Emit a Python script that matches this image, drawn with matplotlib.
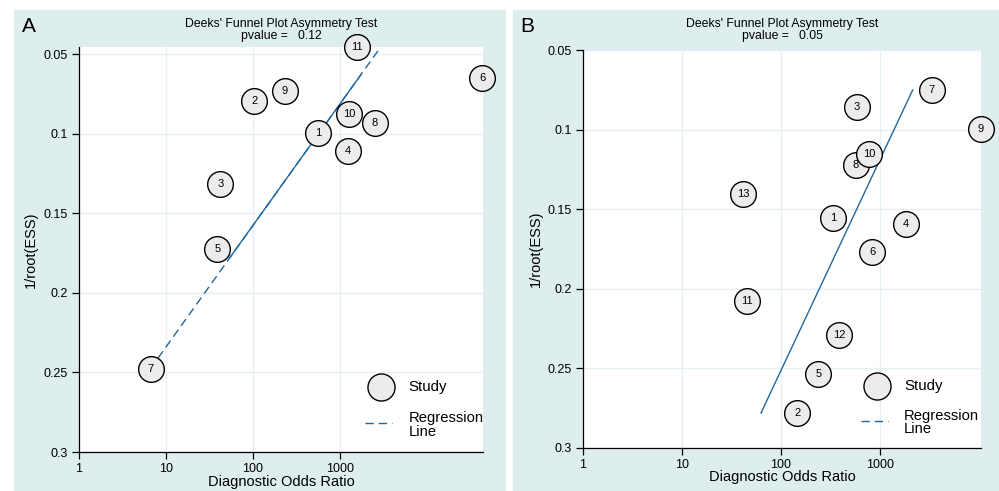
import matplotlib.pyplot as plt
from matplotlib.patches import Rectangle
from matplotlib.lines import Line2D

plt.rcParams['font.family'] = ['Liberation Sans', 'DejaVu Sans']

# 패널 A 데이터
a_study = ['1', '2', '3', '4', '5', '6', '7', '8', '9', '10', '11']
a_dor = [560, 103, 42, 1240, 39, 42900, 6.7, 2520, 233, 1270, 1570]
a_ess = [0.0996, 0.0795, 0.1317, 0.1109, 0.1725, 0.0651, 0.2479, 0.0933, 0.0732, 0.0877, 0.0456]
a_reg_x = [8.1, 2884]
a_reg_y = [0.241, 0.0462]
a_solid_x = [54, 1740]
a_solid_y = [0.178, 0.063]
a_pvalue = '0.12'

# 패널 B 데이터
b_study = ['1', '2', '3', '4', '5', '6', '7', '8', '9', '10', '11', '12', '13']
b_dor = [338, 146, 582, 1820, 238, 836, 3330, 572, 10400, 780, 45.7, 388, 41.6]
b_ess = [0.1557, 0.2782, 0.0856, 0.1595, 0.2535, 0.1767, 0.0751, 0.1222, 0.0998, 0.1153, 0.2077, 0.229, 0.1405]
b_reg_x = [62.8, 2138]
b_reg_y = [0.278, 0.0751]
b_pvalue = '0.05'

xticks = [1, 10, 100, 1000]
yticks = [0.05, 0.1, 0.15, 0.2, 0.25, 0.3]
ytick_labels = ['0.05', '0.1', '0.15', '0.2', '0.25', '0.3']

bg = '#deeeef'
line_c = '#21679f'
grid_c = '#e4eff6'
W, H = 999, 491

fig = plt.figure(figsize=(9.99, 4.91), dpi=100)
fig.patches.append(Rectangle((14 / W, 0), 491 / W, 481 / H, transform=fig.transFigure,
                             color=bg, zorder=-10))
fig.patches.append(Rectangle((513 / W, 0), 486 / W, 481 / H, transform=fig.transFigure,
                             color=bg, zorder=-10))


def px_box(l, t, r, b):
    return [l / W, (H - b) / H, (r - l) / W, (b - t) / H]


def draw_panel(ax, study, dor, ess, xmax, ytop, ylab_x, xlab_y, leg):
    ax.set_xscale('log')
    ax.set_xlim(1, xmax)
    ax.set_ylim(0.3, ytop)
    ax.set_xticks(xticks)
    ax.set_xticklabels([str(t) for t in xticks])
    ax.minorticks_off()
    ax.set_yticks(yticks)
    ax.set_yticklabels(ytick_labels)
    ax.tick_params(labelsize=9, length=5, width=0.9, pad=3)
    ax.grid(True, color=grid_c, lw=1)
    ax.set_axisbelow(True)
    for s in ['top', 'right']:
        ax.spines[s].set_visible(False)
    for s in ['left', 'bottom']:
        ax.spines[s].set_linewidth(0.9)
    ax.set_xlabel('Diagnostic Odds Ratio', fontsize=10.5)
    ax.set_ylabel('1/root(ESS)', fontsize=10.5)
    ax.yaxis.set_label_coords(ylab_x, 0.5)
    ax.xaxis.set_label_coords(0.5, xlab_y)

    ax.plot(dor, ess, 'o', ms=18.5, mfc='#ececec', mec='black', mew=1.0,
            clip_on=False, zorder=5)
    for s, x, y in zip(study, dor, ess):
        ax.text(x, y, s, ha='center', va='center', fontsize=8, zorder=6, clip_on=False)

    # 범례 (수동)
    lx, ly = leg
    ax.plot([lx], [ly], 'o', ms=19.5, mfc='#ececec', mec='black', mew=1.0,
            transform=ax.transAxes, clip_on=False)
    ax.text(lx + 0.068, ly, 'Study', transform=ax.transAxes, fontsize=10.8, va='center')
    ax.add_line(Line2D([lx - 0.04, lx + 0.027], [ly - 0.088, ly - 0.088], color=line_c,
                       lw=1.0, dashes=(6, 3.5), transform=ax.transAxes))
    ax.text(lx + 0.068, ly - 0.093, 'Regression\nLine', transform=ax.transAxes,
            fontsize=10.6, va='center', linespacing=0.95)


# 패널 A
axA = fig.add_axes(px_box(79, 47, 483, 452))
draw_panel(axA, a_study, a_dor, a_ess, 44000, 0.0456, -0.101, -0.056, (0.747, 0.16))
axA.plot(a_reg_x, a_reg_y, color=line_c, lw=1.0, dashes=(6, 3.5), zorder=3)
axA.plot(a_solid_x, a_solid_y, color=line_c, lw=1.0, zorder=3)

# 패널 B
axB = fig.add_axes(px_box(583, 50, 981, 448))
draw_panel(axB, b_study, b_dor, b_ess, 10470, 0.05, -0.1, -0.055, (0.739, 0.157))
axB.plot(b_reg_x, b_reg_y, color=line_c, lw=1.0, zorder=3)

# 제목
fig.text(281 / W, 1 - 24 / H, "Deeks' Funnel Plot Asymmetry Test", ha='center', va='center', fontsize=8.8)
fig.text(281 / W, 1 - 36 / H, 'pvalue =   ' + a_pvalue, ha='center', va='center', fontsize=8.8)
fig.text(782 / W, 1 - 24 / H, "Deeks' Funnel Plot Asymmetry Test", ha='center', va='center', fontsize=8.8)
fig.text(782 / W, 1 - 36 / H, 'pvalue =   ' + b_pvalue, ha='center', va='center', fontsize=8.8)
fig.text(22 / W, 1 - 26 / H, 'A', ha='left', va='center', fontsize=15)
fig.text(520 / W, 1 - 26 / H, 'B', ha='left', va='center', fontsize=15)

fig.savefig('out.png', dpi=100)
